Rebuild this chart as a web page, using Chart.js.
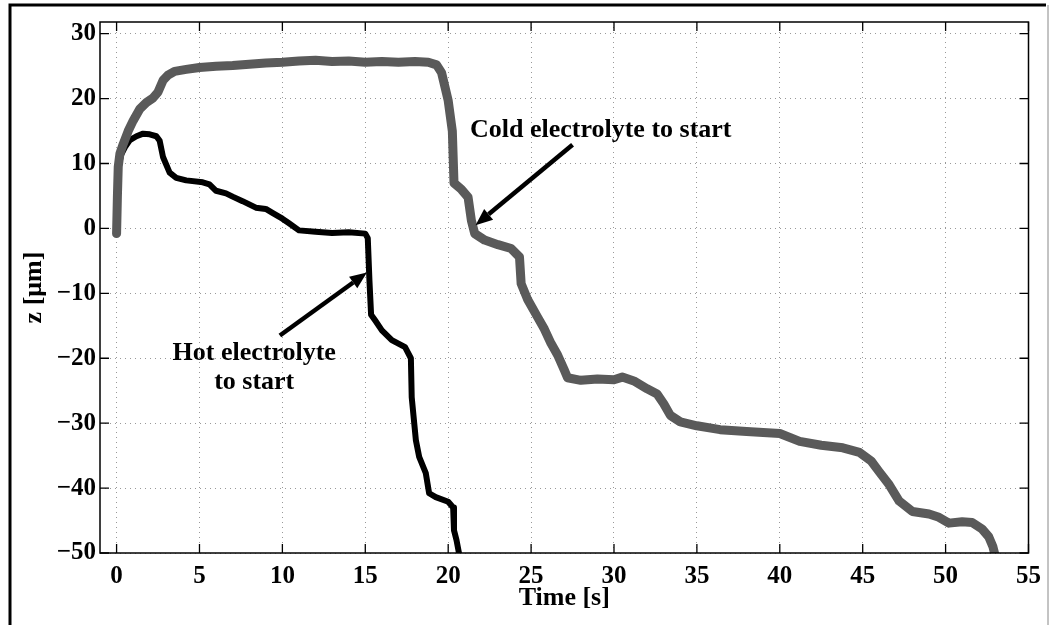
<!DOCTYPE html>
<html>
<head>
<meta charset="utf-8">
<script src="https://cdn.jsdelivr.net/npm/chart.js@4.4.1/dist/chart.umd.min.js"></script>
<style>
  html, body { margin: 0; padding: 0; background: #fff; }
  #wrap { width: 1050px; height: 625px; position: relative; }
</style>
</head>
<body>
<div id="wrap"><canvas id="c"></canvas></div>
<script>
// ---- Data ----
const xTicks = [0, 5, 10, 15, 20, 25, 30, 35, 40, 45, 50, 55];
const yTicks = [-50, -40, -30, -20, -10, 0, 10, 20, 30];

// Hot electrolyte (black trace)
const hotT = [0, 0.05, 0.15, 0.3, 0.5, 0.8, 1.2, 1.6, 2.0, 2.4, 2.6, 2.8, 3.2, 3.6, 4.2, 5.2, 5.6, 6.0, 6.6, 7.0, 7.6, 8.4, 9.0, 9.4, 10.0, 10.4, 11.0, 12.0, 13.0, 14.0, 15.0, 15.15, 15.25, 15.35, 15.6, 16.0, 16.6, 17.4, 17.75, 17.8, 18.05, 18.25, 18.65, 18.85, 19.25, 20.0, 20.3, 20.35, 20.5, 20.65];
const hotZ = [-0.8, 6, 10, 11.5, 12.5, 13.6, 14.2, 14.6, 14.5, 14.2, 13.5, 11, 8.6, 7.8, 7.4, 7.1, 6.8, 5.8, 5.4, 4.9, 4.2, 3.2, 3.0, 2.4, 1.5, 0.8, -0.3, -0.5, -0.7, -0.6, -0.8, -1.5, -8, -13.3, -14.2, -15.7, -17.2, -18.3, -20, -26, -32.6, -35.2, -37.7, -40.8, -41.4, -42.1, -43, -46.5, -48, -50];

// Cold electrolyte (grey trace)
const coldT = [0, 0.05, 0.1, 0.2, 0.4, 0.7, 1.0, 1.4, 1.8, 2.2, 2.5, 2.8, 3.1, 3.5, 4.2, 5, 6, 7, 8, 9, 10, 11, 12, 13, 14, 15, 16, 17, 18, 18.8, 19.3, 19.6, 20.0, 20.25, 20.35, 20.8, 21.2, 21.4, 21.6, 22.2, 23.0, 23.8, 24.3, 24.4, 24.8, 25.4, 25.8, 26.2, 26.6, 27.0, 27.2, 28, 29, 30, 30.5, 31.2, 32, 32.6, 33.0, 33.4, 34.0, 35, 36.4, 38, 40, 41.2, 42.5, 43.8, 44.8, 45.5, 46.0, 46.6, 47.2, 48, 49, 49.6, 50.2, 51, 51.6, 52.2, 52.6, 52.85, 52.95];
const coldZ = [-0.8, 5, 9.5, 11.5, 13, 15, 16.6, 18.4, 19.4, 20.1, 21, 22.8, 23.6, 24.2, 24.5, 24.8, 25, 25.1, 25.3, 25.5, 25.6, 25.8, 25.9, 25.7, 25.8, 25.6, 25.7, 25.6, 25.7, 25.6, 25.2, 24, 19.7, 15, 7, 6, 4.8, 1.2, -0.8, -1.8, -2.5, -3.1, -4.4, -8.5, -11, -13.7, -15.5, -17.7, -19.5, -21.8, -23, -23.4, -23.2, -23.3, -22.9, -23.5, -24.7, -25.5, -27, -28.8, -29.8, -30.4, -31, -31.3, -31.6, -32.8, -33.4, -33.8, -34.5, -35.8, -37.5, -39.5, -42, -43.6, -44, -44.5, -45.4, -45.2, -45.3, -46.3, -47.5, -49, -50];

// Annotation texts and anchor points (data coordinates)
const notes = [
  { lines: ['Cold electrolyte to start'], at: [29.2, 15.1], from: [27.5, 12.9], to: [21.65, 0.5] },
  { lines: ['Hot electrolyte', 'to start'], at: [8.3, -19.2], from: [9.85, -16.5], to: [15.1, -6.8] }
];

const toXY = (ts, zs) => ts.map((t, i) => ({ x: t, y: zs[i] }));

const FONT = 'Liberation Serif, Times New Roman, serif';

const framePlugin = {
  id: 'frame',
  beforeDraw(chart) {
    const ctx = chart.ctx;
    ctx.save();
    ctx.fillStyle = '#fff';
    ctx.fillRect(0, 0, chart.width, chart.height);
    ctx.restore();
  },
  afterDatasetsDraw(chart) {
    const { ctx, chartArea: { left, right, top, bottom }, scales: { x, y } } = chart;
    ctx.save();
    // axes box
    ctx.strokeStyle = '#000';
    ctx.lineWidth = 1.5;
    ctx.strokeRect(left, top, right - left, bottom - top);
    // inside ticks on all four sides
    ctx.lineWidth = 1.3;
    ctx.beginPath();
    xTicks.forEach(v => {
      const px = x.getPixelForValue(v);
      ctx.moveTo(px, bottom); ctx.lineTo(px, bottom - 9);
      ctx.moveTo(px, top); ctx.lineTo(px, top + 9);
    });
    yTicks.forEach(v => {
      const py = y.getPixelForValue(v);
      ctx.moveTo(left, py); ctx.lineTo(left + 9, py);
      ctx.moveTo(right, py); ctx.lineTo(right - 9, py);
    });
    ctx.stroke();

    // annotations
    notes.forEach(n => {
      const fx = x.getPixelForValue(n.from[0]), fy = y.getPixelForValue(n.from[1]);
      const tx = x.getPixelForValue(n.to[0]), ty = y.getPixelForValue(n.to[1]);
      const ang = Math.atan2(ty - fy, tx - fx);
      const headLen = 17, headW = 7;
      const bx = tx - headLen * Math.cos(ang), by = ty - headLen * Math.sin(ang);
      ctx.strokeStyle = '#000';
      ctx.lineWidth = 4.5;
      ctx.lineCap = 'butt';
      ctx.beginPath();
      ctx.moveTo(fx, fy); ctx.lineTo(bx, by);
      ctx.stroke();
      ctx.fillStyle = '#000';
      ctx.beginPath();
      ctx.moveTo(tx, ty);
      ctx.lineTo(bx + headW * Math.sin(ang), by - headW * Math.cos(ang));
      ctx.lineTo(bx - headW * Math.sin(ang), by + headW * Math.cos(ang));
      ctx.closePath();
      ctx.fill();

      ctx.font = 'bold 26px ' + FONT;
      ctx.textAlign = 'center';
      ctx.textBaseline = 'middle';
      const cx = x.getPixelForValue(n.at[0]);
      const cy = y.getPixelForValue(n.at[1]);
      n.lines.forEach((s, i) => ctx.fillText(s, cx, cy + i * 29));
    });

    // outer frame of the figure
    ctx.strokeStyle = '#000';
    ctx.lineWidth = 3;
    ctx.beginPath();
    ctx.moveTo(10, 625); ctx.lineTo(10, 5); ctx.lineTo(1046, 5);
    ctx.stroke();
    ctx.strokeStyle = '#888';
    ctx.lineWidth = 1;
    ctx.beginPath();
    ctx.moveTo(1048, 5); ctx.lineTo(1048, 625);
    ctx.stroke();
    ctx.restore();
  }
};

new Chart(document.getElementById('c'), {
  type: 'line',
  data: {
    datasets: [
      {
        label: 'Cold electrolyte',
        data: toXY(coldT, coldZ),
        borderColor: '#5a5a5a',
        borderWidth: 9,
        pointRadius: 0,
        tension: 0,
        borderJoinStyle: 'round',
        borderCapStyle: 'round'
      },
      {
        label: 'Hot electrolyte',
        data: toXY(hotT, hotZ),
        borderColor: '#000',
        borderWidth: 6,
        pointRadius: 0,
        tension: 0,
        borderJoinStyle: 'round',
        borderCapStyle: 'round'
      }
    ]
  },
  options: {
    responsive: true,
    maintainAspectRatio: false,
    animation: false,
    layout: { padding: { top: 22, right: 17, left: 0, bottom: 0 } },
    plugins: { legend: { display: false }, tooltip: { enabled: false } },
    scales: {
      x: {
        type: 'linear',
        min: -1,
        max: 55,
        afterBuildTicks: s => { s.ticks = xTicks.map(v => ({ value: v })); },
        afterFit: s => { s.height = 72; },
        grid: { color: '#999', lineWidth: 1, drawTicks: false },
        border: { display: false, dash: [1, 4] },
        ticks: {
          padding: 9,
          color: '#000',
          maxRotation: 0,
          autoSkip: false,
          font: { family: FONT, size: 25, weight: 'bold' }
        },
        title: {
          display: true,
          text: 'Time [s]',
          color: '#000',
          font: { family: FONT, size: 26, weight: 'bold', lineHeight: 1 },
          padding: { top: 0, bottom: 14 }
        }
      },
      y: {
        type: 'linear',
        min: -50,
        max: 31.8,
        afterBuildTicks: s => { s.ticks = yTicks.map(v => ({ value: v })); },
        afterFit: s => { s.width = 100; },
        grid: { color: '#999', lineWidth: 1, drawTicks: false },
        border: { display: false, dash: [1, 4] },
        ticks: {
          padding: 4,
          color: '#000',
          autoSkip: false,
          font: { family: FONT, size: 25, weight: 'bold' },
          callback: v => (v < 0 ? '\u2212' + Math.abs(v) : String(v))
        },
        title: {
          display: true,
          text: 'z [\u03bcm]',
          color: '#000',
          font: { family: FONT, size: 26, weight: 'bold', lineHeight: 1 },
          padding: { top: 21, bottom: 0 }
        }
      }
    }
  },
  plugins: [framePlugin]
});
</script>
</body>
</html>
